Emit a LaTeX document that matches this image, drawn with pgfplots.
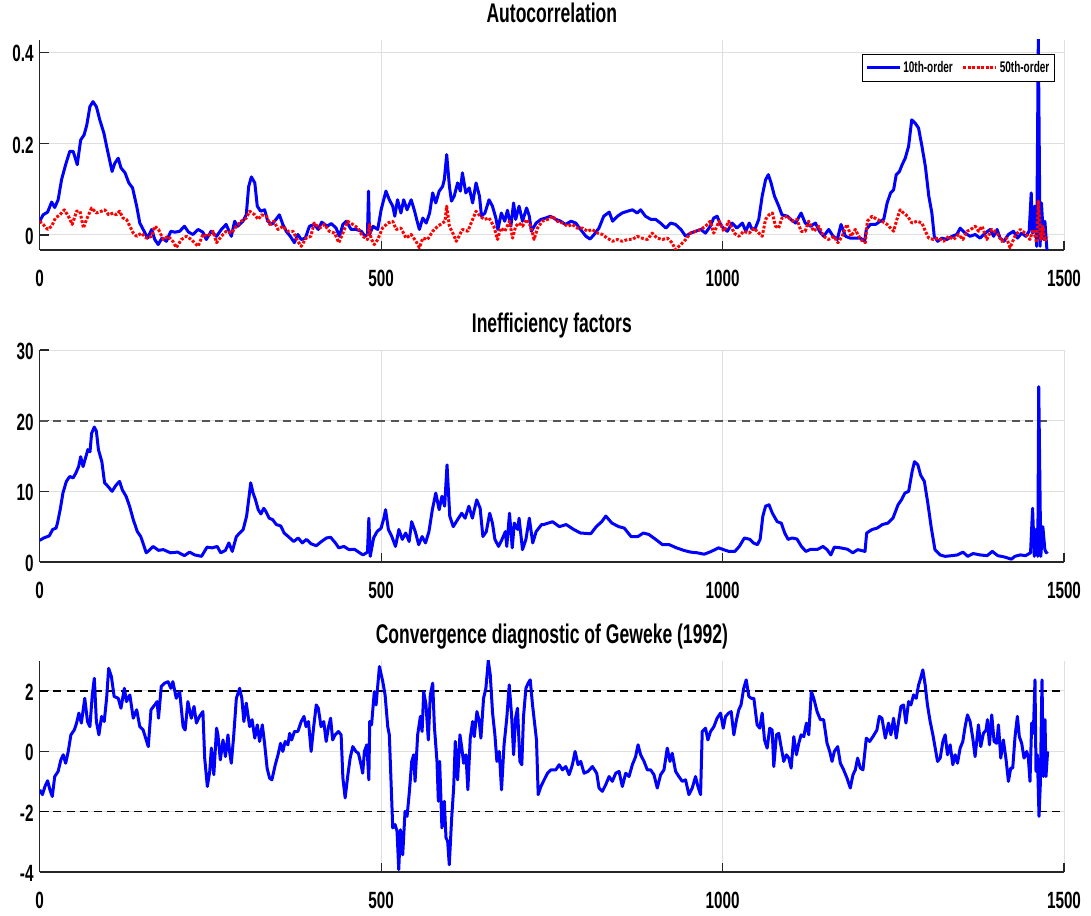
\documentclass[border=0pt]{standalone}
\usepackage{fontspec}
\setmainfont[FakeStretch=0.65]{Liberation Sans}
\usepackage{pgfplots}
\pgfplotsset{compat=1.18}
\definecolor{axgray}{RGB}{38,38,38}
\definecolor{gridgray}{RGB}{223,223,223}
\definecolor{refgray}{RGB}{85,85,85}
\definecolor{mblue}{RGB}{0,0,255}
\definecolor{mred}{RGB}{255,0,0}
\newcommand{\tickfont}{\fontsize{23.5}{23.5}\selectfont\bfseries}
\newcommand{\titlefont}{\fontsize{27}{27}\selectfont\bfseries}
\newcommand{\legfont}{\fontsize{15.4}{16}\selectfont\bfseries}
\pgfplotsset{
 mystyle/.style={
  scale only axis, width=1024.3pt, xmin=0, xmax=1500,
  axis x line=bottom, axis y line=left,
  axis line style={-, axgray, line width=1.5pt},
  xtick={0,500,1000,1500}, xticklabels={0,500,1000,1500},
  tick align=inside, major tick length=9pt,
  tick style={axgray, line width=1.2pt},
  grid=major, major grid style={gridgray, line width=0.9pt},
  xticklabel style={font=\tickfont, anchor=base, yshift=-36.5pt, inner sep=0pt},
  yticklabel style={font=\tickfont, anchor=east, xshift=-6pt, yshift=-1.5pt, inner sep=0pt},
  title style={font=\titlefont, anchor=base, at={(0.5,1)}, yshift=11pt, inner sep=0pt},
  /pgf/number format/assume math mode=true,
 },
 bl/.style={mblue, line width=3pt, line join=round, mark=none},
 rd/.style={mred, line width=3pt, dash pattern=on 2.8pt off 1.7pt, line join=round, mark=none},
}
\begin{document}
\begin{tikzpicture}
\useasboundingbox (0,0) rectangle (1091pt,915pt);
% ---------------- Panel 1 ----------------
\begin{axis}[mystyle, at={(39.7pt,665pt)}, anchor=south west, height=210pt,
  ymin=-0.033, ymax=0.427, ytick={0,0.2,0.4}, yticklabels={0,0.2,0.4},
  title={Autocorrelation},
  legend style={at={(0.991,0.933)}, anchor=north east, legend columns=2, draw=black, fill=white,
    font=\legfont, inner xsep=3pt, inner ysep=5pt, line width=0.9pt,
    /tikz/every even column/.append style={column sep=7pt}},
  legend image code/.code={\draw[#1] (0pt,0pt) -- (33pt,0pt);},
]
\addplot[bl] coordinates {(0,0.030)(5,0.044)(11.6,0.050)(17.5,0.072)(22,0.060)(27,0.077)(32,0.121)(38,0.154)(44,0.183)(49,0.183)(55,0.154)(60,0.208)(65,0.219)(69,0.241)(73.5,0.281)(78,0.292)(83,0.281)(88,0.252)(94,0.223)(99,0.187)(106,0.139)(110,0.157)(115,0.168)(119,0.147)(125,0.136)(130.5,0.114)(136,0.103)(142,0.063)(146.6,0.026)(151.5,0.012)(158,-0.007)(164,0.012)(168.5,-0.010)(173.5,-0.021)(179,-0.007)(185.6,-0.014)(192,0.008)(198,0.006)(205,0.008)(212,0.019)(218,0.006)(224.5,0.001)(232,0.012)(239,0.006)(244,-0.010)(251,0.008)(259,-0.003)(266,0.012)(273,0.023)(280.6,-0.003)(285.5,0.030)(290,0.019)(297.6,0.030)(302.5,0.044)(306,0.106)(310,0.127)(315,0.114)(318.6,0.063)(323.5,0.052)(329.4,0.055)(334,0.030)(340,0.023)(346,0.034)(351,0.044)(356,0.023)(361,0.008)(367,-0.003)(373,-0.017)(378,0.001)(383,-0.010)(389,-0.007)(395,0.019)(402,0.023)(408,0.012)(413,0.028)(421,0.019)(427,0.025)(434,0.015)(439,-0.003)(444,0.023)(449,0.030)(456,0.012)(463,0.012)(471,0.008)(476.5,-0.003)(480,0.001)(481.5,0.096)(483,0.001)(488,0.019)(495,0.012)(500,0.055)(507,0.096)(512,0.077)(517,0.063)(520,0.041)(524,0.077)(529,0.048)(533,0.077)(538,0.055)(544,0.077)(549,0.052)(552,0.034)(556,0.012)(561,0.037)(566,0.026)(571,0.048)(575.5,0.092)(580,0.070)(585,0.096)(590,0.106)(592.5,0.121)(596,0.176)(600,0.106)(603,0.074)(607,0.085)(612,0.114)(616,0.096)(619,0.136)(624,0.092)(629,0.103)(634,0.070)(639,0.114)(644,0.085)(647,0.041)(652,0.048)(658,0.077)(663,0.063)(668,0.037)(671,0.012)(676,0.048)(681,0.030)(685,0.054)(690,0.019)(694,0.070)(697,0.034)(702,0.063)(707,0.030)(713,0.059)(717,0.041)(720,0.008)(727,0.026)(734,0.034)(741,0.037)(748,0.041)(756,0.034)(763,0.030)(770,0.023)(778,0.030)(785,0.026)(792,0.012)(800,-0.003)(806,-0.009)(812,0.001)(819,0.015)(826,0.041)(834,0.050)(839,0.030)(846,0.041)(853,0.048)(861,0.052)(868,0.055)(875,0.048)(880,0.055)(887,0.041)(895,0.034)(902,0.034)(909,0.026)(917,0.015)(924,0.026)(931,0.023)(939,0.012)(946,-0.003)(953,0.004)(960.5,0.008)(968,0.012)(975,0.004)(982,0.019)(987,0.037)(992,0.041)(997,0.023)(1001,0.015)(1007,0.008)(1014,0.026)(1021,0.015)(1029,0.026)(1034,0.008)(1039,0.026)(1043.3,0.012)(1048,0.015)(1053,0.034)(1058,0.085)(1063,0.121)(1067,0.132)(1071,0.114)(1076,0.085)(1082.3,0.063)(1087,0.044)(1095,0.041)(1100,0.034)(1107,0.026)(1115,0.048)(1121,0.026)(1129,0.019)(1136,0.026)(1142,0.008)(1148,-0.003)(1155.4,0.012)(1162,-0.003)(1168,-0.010)(1173.5,0.023)(1180,-0.003)(1187,-0.007)(1194.4,-0.007)(1202,-0.007)(1208,-0.014)(1210.5,0.012)(1216.3,0.023)(1224,0.023)(1231,0.030)(1236,0.034)(1241,0.070)(1246,0.092)(1250.5,0.099)(1254.3,0.132)(1259,0.139)(1263,0.154)(1267.5,0.168)(1272.4,0.194)(1277,0.252)(1282,0.245)(1287,0.234)(1292,0.194)(1297,0.150)(1302,0.085)(1306.5,0.048)(1310,-0.003)(1315,-0.014)(1321,-0.007)(1328.4,-0.010)(1336,-0.003)(1343,0.001)(1348,0.015)(1355,0.004)(1362.5,-0.003)(1370,0.001)(1377,-0.007)(1384.5,0.004)(1392,0.012)(1397,-0.003)(1402,0.012)(1406.4,-0.007)(1412,-0.014)(1418.6,0.001)(1426,0.008)(1432,-0.007)(1438,0.004)(1444,-0.003)(1449,0.008)(1452,0.092)(1454,0.004)(1457,0.063)(1460,-0.025)(1462.4,0.43)(1465,-0.025)(1467,0.070)(1470,-0.010)(1472,0.030)(1475,-0.033)};
\addlegendentry{10th-order}
\addplot[rd] coordinates {(0,0.030)(5,0.023)(11.6,0.012)(17.5,0.019)(23,0.037)(29.6,0.044)(36,0.055)(42,0.041)(47.7,0.023)(54,0.052)(59,0.052)(64,0.015)(68.6,0.034)(76,0.059)(83,0.048)(90.6,0.052)(95.4,0.055)(101,0.044)(107.6,0.048)(112,0.044)(117,0.052)(122,0.037)(127,0.034)(132,0.019)(137,0.004)(142,-0.003)(149,0.004)(156,-0.007)(164,-0.003)(168.5,0.019)(174,0.012)(181,-0.010)(188,-0.003)(195,-0.014)(200,-0.028)(207.5,-0.010)(215,-0.003)(222,-0.010)(232,-0.025)(239,0.001)(246.5,-0.003)(254,0.008)(259,-0.017)(266,-0.003)(273,0.008)(281,0.004)(288,0.019)(295,0.030)(302.5,0.037)(307.5,0.052)(315,0.044)(320,0.034)(325,0.044)(332,0.041)(337,0.023)(343,0.030)(349,0.012)(356,0.019)(363.5,0.008)(371,0.008)(378,-0.014)(383,-0.025)(390,-0.007)(397,-0.003)(402,0.026)(410,0.015)(417,0.023)(424,0.008)(432,0.004)(438,-0.017)(444,0.004)(451,0.030)(458.5,0.023)(466,0.015)(473,-0.003)(480,-0.010)(483,0.023)(485,-0.007)(490,-0.021)(495,-0.010)(502,0.015)(510,0.026)(517,0.030)(522,0.012)(529,0.015)(536.5,-0.007)(544,0.001)(551,-0.014)(556,-0.028)(561,-0.007)(568,-0.010)(575.5,0.008)(583,0.019)(590,0.026)(593.5,0.030)(596,0.063)(600,0.019)(605,0.004)(610,-0.014)(614,-0.003)(619,0.012)(627,0.008)(631,0.023)(639,0.052)(645,0.041)(651,0.034)(658,0.037)(665,0.019)(670.5,-0.010)(675,0.015)(681,0.008)(688,0.030)(692.5,-0.007)(697,0.019)(702,0.026)(707,0.019)(713,0.034)(719,0.019)(724,-0.010)(729,0.015)(736,0.030)(744,0.034)(751,0.041)(758,0.030)(766,0.026)(773,0.019)(780,0.023)(787,0.015)(795,0.015)(802,0.008)(809,0.012)(817,0.004)(824,0.001)(831,-0.007)(839,-0.014)(846,-0.010)(853,-0.014)(861,-0.010)(868,-0.010)(875,-0.003)(882,-0.007)(890,-0.010)(897,0.004)(904,-0.007)(912,-0.010)(919,-0.007)(926,-0.017)(931,-0.032)(939,-0.021)(946,-0.010)(953,0.004)(961,0.008)(968,0.012)(975,0.019)(982,0.030)(987,0.004)(995,0.030)(1002,0.008)(1009,0.030)(1017,0.004)(1024,-0.003)(1031,0.008)(1039,0.004)(1046,0.015)(1053,0.004)(1058,-0.003)(1063,0.034)(1068,0.044)(1073,0.048)(1077.5,0.019)(1082,0.015)(1087,0.037)(1095,0.041)(1102,0.030)(1109,0.034)(1115,0.008)(1121,0.008)(1126,0.030)(1133.5,0.008)(1141,0.019)(1148,-0.003)(1155,-0.010)(1163,-0.003)(1169,-0.017)(1175,-0.003)(1182,0.023)(1188,-0.003)(1194.4,0.012)(1202,-0.010)(1209,-0.017)(1212,0.030)(1219,0.041)(1226,0.034)(1233.4,0.030)(1241,0.023)(1246,0.015)(1250.5,0.008)(1255.3,0.034)(1260,0.055)(1265,0.048)(1271,0.041)(1277.3,0.026)(1285,0.030)(1292,0.026)(1297,0.008)(1302,-0.007)(1309,-0.010)(1316,-0.007)(1324,-0.014)(1331,-0.003)(1338,-0.010)(1345.5,0.001)(1352,-0.010)(1358,0.008)(1363.5,0.012)(1370,0.019)(1375,0.008)(1380,0.019)(1387,-0.010)(1394,0.012)(1402,0.004)(1409,-0.014)(1416,-0.007)(1421,-0.028)(1428,-0.003)(1436,0.012)(1443,0.004)(1450,-0.010)(1455,0.012)(1460,-0.017)(1462.4,0.074)(1466,-0.010)(1469,0.019)(1472,-0.014)(1475,-0.003)};
\addlegendentry{50th-order}
\end{axis}
% ---------------- Panel 2 ----------------
\begin{axis}[mystyle, at={(39.7pt,353pt)}, anchor=south west, height=212pt,
  ymin=0, ymax=30, ytick={0,10,20,30}, yticklabels={0,10,20,30},
  title={Inefficiency factors}]
\addplot[refgray, dash pattern=on 8pt off 5.5pt, line width=1.8pt, forget plot] coordinates {(0,20)(1478,20)};
\addplot[bl] coordinates {(0,3.06)(6,3.4)(14,3.7)(19,4.6)(24,4.8)(26,5.5)(30,7.4)(34,9.75)(39,11.4)(44,12.1)(49,11.9)(53,12.6)(57,13.5)(60,14.9)(63.5,13.5)(67,14.7)(70.6,15.9)(73.7,15.6)(76,18.2)(80,19.1)(83,18.5)(86,15.9)(91,14.2)(95,11.2)(100,10.7)(106,10.0)(112,10.9)(117,11.4)(121,10.2)(126.5,9.3)(131.6,7.9)(137,6.0)(143,4.3)(148,3.6)(152,2.45)(156,1.3)(161,1.7)(166,2.2)(174,1.65)(181,1.75)(191.5,1.3)(202,1.4)(212,0.9)(219.5,1.4)(227,1.0)(237,0.8)(245,2.1)(252.5,2.0)(260,2.2)(265,1.3)(272,1.65)(277,2.7)(282,1.5)(288,3.6)(293,4.1)(298,4.6)(303,6.5)(306,8.8)(309,11.2)(312.5,9.75)(316,8.8)(320,7.4)(324,6.8)(328,7.6)(331,7.2)(336,6.2)(341,6.0)(346.5,5.3)(353,5.1)(358,4.1)(364,3.6)(372,2.9)(378.5,3.4)(384.6,2.7)(390.7,3.2)(397,2.6)(405,2.3)(412.6,2.9)(420,3.4)(426,3.5)(433,2.7)(438,2.0)(445.6,2.2)(453,1.75)(461,1.8)(468.5,1.3)(473.5,1.0)(480,1.4)(482,6.2)(484,0.8)(489,3.4)(494,4.3)(500,4.8)(504,6.2)(506.5,7.4)(510.6,4.6)(515.7,3.6)(521,2.2)(526,4.6)(531,3.2)(536,4.1)(541,2.9)(544.7,5.7)(550,4.3)(555,2.45)(560,3.6)(565,2.7)(570,4.3)(575,7.4)(580,9.75)(585,7.4)(589,9.3)(593,7.9)(596.5,13.75)(600.5,6.5)(605.6,5.0)(612,6.0)(618,6.9)(623,6.2)(628.5,7.9)(633.6,6.2)(640,8.8)(645,7.6)(649,3.6)(654,4.3)(659,6.9)(663,5.5)(666.6,3.2)(672,2.2)(677,3.2)(682,4.3)(684,2.2)(688,6.9)(692,2.0)(695,5.5)(700,4.6)(702,6.2)(707,1.75)(712,3.2)(717,6.2)(722,2.7)(727,4.3)(735,5.3)(738,5.3)(751,5.7)(761,5.0)(771,5.3)(782,4.6)(792,4.1)(807,4.0)(815,5.0)(823,5.7)(829,6.5)(838,5.5)(848,5.0)(856,4.8)(866,3.6)(876,3.6)(884,4.1)(892,3.9)(902,3.2)(912,2.45)(922,2.45)(932.5,2.0)(943,1.65)(953,1.4)(963,1.3)(973,1.1)(981,1.4)(989,1.75)(994,2.0)(1001.5,1.75)(1009,1.5)(1018,1.5)(1024.5,2.2)(1032,3.4)(1040,3.2)(1045,2.7)(1051,2.45)(1055,3.2)(1059,6.5)(1063,7.9)(1068,8.1)(1073,6.9)(1080,5.7)(1086,5.5)(1091,4.1)(1096,3.2)(1102,3.4)(1109,3.25)(1115.5,2.2)(1122,1.5)(1129,1.8)(1139.5,1.8)(1147,2.2)(1153,1.75)(1158.5,1.0)(1163.6,2.1)(1173,2.0)(1183,1.8)(1190.7,1.3)(1198,1.75)(1208.6,1.5)(1211,4.1)(1219,4.6)(1226.5,4.8)(1234,5.3)(1242,5.5)(1249.5,6.2)(1257,8.1)(1262,8.8)(1267,9.75)(1272.5,10.0)(1277.6,12.8)(1281,14.2)(1286,13.75)(1290,12.3)(1295.5,11.4)(1300.6,8.3)(1305.7,4.8)(1311,1.75)(1318.5,1.0)(1326,0.8)(1336,0.9)(1344,1.0)(1352,1.4)(1359,0.8)(1367,1.2)(1377,1.0)(1387.5,0.9)(1395,1.5)(1403,0.9)(1413,0.7)(1423,0.4)(1428,0.8)(1436,1.0)(1443.7,0.9)(1451,1.3)(1454,7.6)(1456.5,0.8)(1459,4.6)(1461.6,0.8)(1463,24.8)(1466,0.8)(1469,5.0)(1472,1.75)(1474,1.3)(1476,1.5)};
\end{axis}
% ---------------- Panel 3 ----------------
\begin{axis}[mystyle, at={(39.7pt,43pt)}, anchor=south west, height=211.5pt,
  ymin=-4, ymax=3, ytick={-4,-2,0,2}, yticklabels={-4,-2,0,2},
  title={Convergence diagnostic of Geweke (1992)}]
\addplot[black, dash pattern=on 8pt off 5.5pt, line width=1.8pt, forget plot] coordinates {(0,2)(1500,2)};
\addplot[black, dash pattern=on 8pt off 5.5pt, line width=1.8pt, forget plot] coordinates {(0,-2)(1500,-2)};
\addplot[bl] coordinates {(0,-1.28)(4,-1.44)(7.7,-1.17)(11.6,-0.98)(15,-1.28)(18.4,-1.50)(22,-0.84)(27,-0.67)(31,-0.29)(34.5,-0.12)(38,-0.40)(41.8,-0.01)(45.7,0.54)(50.6,0.70)(54,0.93)(57.4,1.26)(61,0.93)(66,1.75)(70,0.98)(73.5,0.81)(77,1.86)(80,2.41)(83,0.98)(86.7,0.54)(90.6,1.15)(94.5,0.98)(98,1.75)(101,2.74)(105,2.47)(109,1.81)(115,1.75)(119,1.42)(124,2.08)(127,1.64)(132,1.86)(137,1.09)(142,1.37)(146.6,0.81)(151.5,0.70)(156,0.37)(159,0.15)(163,1.37)(168.5,1.53)(172,1.64)(174,1.09)(178,2.14)(183,2.25)(188,2.30)(192,2.08)(195,2.30)(200,1.75)(205,1.97)(210,0.81)(213,0.70)(217,1.64)(222,1.09)(226,1.48)(229.5,0.93)(234,1.15)(239,1.31)(241.6,-0.23)(245.5,-1.17)(249,-0.67)(251.4,0.10)(255,-0.78)(259,0.76)(261,0.54)(264.5,-0.29)(268.4,0.37)(272,-0.18)(275.7,0.54)(278,-0.01)(280.6,-0.40)(284,0.48)(288,1.75)(292.8,2.08)(296,1.75)(299,0.98)(302.5,1.59)(307.4,0.81)(311,1.04)(315,0.43)(318.6,0.87)(322,0.32)(326,0.87)(329.3,0.26)(333,-0.56)(336.6,-0.89)(340,-0.95)(345,-0.45)(349,-0.12)(352.7,0.26)(356,-0.01)(359.5,0.32)(363.5,0.21)(366,0.59)(369,0.37)(373,0.65)(378,0.65)(383,0.98)(387,1.15)(390,0.81)(393.6,0.98)(397.5,-0.01)(401,0.76)(405,1.53)(408,1.42)(412,0.81)(416,0.98)(419.5,0.32)(423,0.81)(426,1.09)(429,0.37)(432.6,0.54)(437.5,0.65)(441.4,0.54)(444,-0.89)(447.3,-1.55)(451,-0.84)(454.6,-0.23)(458.5,0.15)(463,-0.01)(466.7,-0.07)(470.6,-0.45)(473,-0.73)(475.5,-0.01)(479,0.21)(482,-0.95)(483.3,0.98)(486,0.87)(490,1.97)(492.6,1.53)(497.5,2.80)(502.4,2.30)(505.8,1.86)(509.7,0.81)(512,0.54)(517,-2.54)(520.4,-2.43)(523.3,-2.65)(525.8,-3.92)(528.2,-2.60)(531.6,-3.43)(535,-1.99)(538,-2.16)(541.4,-1.33)(544.8,-0.34)(547.7,-0.12)(549.7,-1.00)(553.5,0.54)(557.5,1.15)(560,0.65)(562.3,1.97)(565.7,1.53)(569.1,0.37)(572,1.86)(575.5,2.25)(578,0.81)(581.8,-0.34)(583.8,-1.66)(585.7,-0.34)(589,-2.54)(592.5,-1.66)(595,-2.87)(597.4,-2.98)(599.8,-3.76)(603.3,-2.21)(606.2,-1.22)(608.6,0.32)(612,-0.95)(615.4,0.54)(617.9,0.15)(620.8,-0.40)(624.2,-0.12)(627,-1.28)(630.5,0.43)(634,0.98)(636.4,0.48)(640.3,1.31)(643.7,0.98)(646.1,0.43)(650,1.75)(653.4,2.08)(656.9,3.0)(659.8,2.52)(663.2,1.26)(666.6,0.54)(669.5,-0.34)(673,-0.01)(676.3,-1.28)(680,0.21)(684,1.09)(687.6,2.19)(691,1.20)(694,-0.12)(696.8,1.09)(699.7,1.42)(703.2,-0.34)(706,-0.45)(708.5,1.15)(712,2.08)(715.3,2.25)(718.3,2.36)(721.7,1.53)(725,0.87)(727.5,0.37)(730,-1.44)(733.9,-1.17)(738.7,-0.95)(743.6,-0.73)(748.5,-0.62)(755.8,-0.62)(760.7,-0.45)(765.5,-0.62)(770.4,-0.51)(775.3,-0.78)(780.1,-0.45)(784,-0.01)(788.4,-0.45)(792.3,-0.34)(797.2,-0.73)(803,-0.67)(809.4,-0.51)(815.7,-0.73)(819.1,-1.22)(824,-1.33)(828.9,-1.11)(833.8,-0.84)(838.6,-1.00)(843.5,-0.73)(848.4,-0.67)(853.2,-1.17)(858.1,-0.73)(863,-0.84)(867.9,-0.45)(872.7,-0.18)(876.2,0.21)(880,-0.12)(885,-0.34)(889.8,-0.62)(894.7,-0.62)(899.5,-0.78)(904.4,-1.22)(909.3,-0.78)(914.2,-0.62)(919,0.10)(923,-0.34)(926.3,-0.07)(931.2,-0.67)(936,-0.84)(941,-1.00)(945.8,-0.95)(950.7,-1.44)(955.6,-1.22)(960.4,-0.84)(963.9,-1.17)(967.8,-1.44)(970.2,0.65)(975,0.76)(978.5,0.37)(982.4,0.65)(987.3,0.81)(992,1.09)(997,1.26)(1001,0.76)(1004.4,1.15)(1009,1.26)(1012.6,1.31)(1016.5,0.54)(1020.4,1.04)(1023.8,1.37)(1027,1.53)(1031,2.08)(1034.6,2.36)(1038.5,1.81)(1041.9,1.75)(1045.8,1.75)(1050.6,0.87)(1054.5,0.76)(1058,1.26)(1061.4,0.37)(1065.3,0.10)(1069,0.76)(1072.6,0.70)(1075,-0.51)(1078.9,0.54)(1082.3,0.59)(1084.8,0.26)(1089.6,-0.34)(1093.5,-0.12)(1097,-0.23)(1100.4,-0.56)(1104.3,0.48)(1108.2,-0.12)(1111.6,0.26)(1115,0.54)(1118.9,0.48)(1122.8,0.93)(1126.2,0.54)(1130,1.97)(1133.5,1.75)(1138.4,1.31)(1143.2,1.04)(1148,1.04)(1153,0.26)(1156.9,-0.01)(1160.3,-0.34)(1163.7,-0.01)(1168.6,0.15)(1172.5,-0.40)(1177.3,-0.62)(1182.2,-0.89)(1187,-1.22)(1191,-0.78)(1194.4,-0.62)(1197.8,-0.23)(1201.7,-0.56)(1205.6,-0.62)(1210.5,0.43)(1215.4,0.32)(1220.2,0.48)(1226,0.70)(1229.5,1.15)(1233.4,1.09)(1238.3,0.43)(1243,0.93)(1246.5,0.54)(1250.4,1.09)(1254.3,0.43)(1257.8,0.98)(1261.2,1.48)(1265,1.53)(1268.5,0.93)(1272.4,1.64)(1275.8,1.53)(1279.7,1.86)(1283.6,1.75)(1287,2.19)(1289.4,2.36)(1293.3,2.69)(1296.7,2.19)(1300,1.53)(1304,0.98)(1308,0.54)(1311.4,0.10)(1314.8,-0.34)(1318.7,-0.23)(1322.6,0.32)(1326,0.54)(1329.4,-0.12)(1333.3,0.21)(1337.2,-0.45)(1340.6,-0.12)(1344,-0.40)(1347.9,0.10)(1351.8,0.32)(1355.2,0.81)(1358.6,1.20)(1362.5,0.98)(1366.4,0.43)(1369.8,-0.18)(1374.7,0.87)(1378.1,0.15)(1382,0.59)(1385.9,0.70)(1387.9,1.04)(1390.8,0.21)(1394.2,1.20)(1397.6,0.32)(1401.5,0.26)(1404,0.87)(1407.4,-0.23)(1411.2,0.37)(1415.2,-0.29)(1418.6,-1.00)(1422,-0.56)(1424.9,-0.56)(1428.3,0.48)(1431.7,1.15)(1434.6,0.48)(1438,0.26)(1441.5,-0.23)(1445.4,-0.01)(1447.8,-0.23)(1450.2,-1.00)(1452.7,0.93)(1455.1,0.59)(1457.5,2.36)(1459,-0.67)(1461,-0.12)(1463.4,-2.16)(1465.3,-1.11)(1467.8,2.36)(1469.7,-0.84)(1472.2,1.04)(1473.6,-0.84)(1476,-0.01)};
\end{axis}
\end{tikzpicture}
\end{document}
